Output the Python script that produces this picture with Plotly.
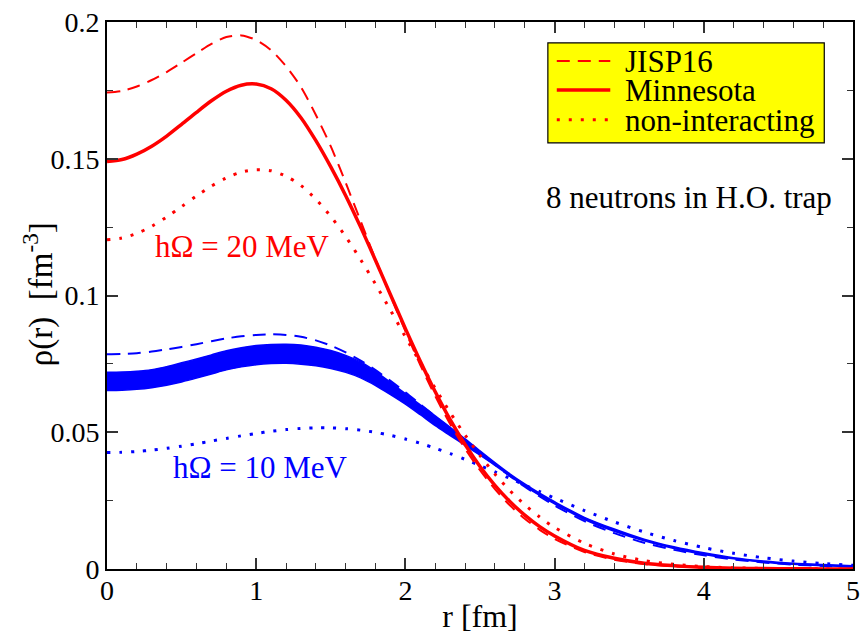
import plotly.graph_objects as go

# radial grid [fm]
r = [0.0, 0.1, 0.2, 0.3, 0.4, 0.5, 0.6, 0.7, 0.8, 0.9,
     1.0, 1.1, 1.2, 1.3, 1.4, 1.5, 1.6, 1.7, 1.8, 1.9,
     2.0, 2.1, 2.2, 2.3, 2.4, 2.5, 2.6, 2.7, 2.8, 2.9,
     3.0, 3.2, 3.4, 3.6, 3.8, 4.0, 4.2, 4.4, 4.6, 4.8, 5.0]

# hbar*Omega = 20 MeV densities [fm^-3]
jisp16_20 = [0.1742, 0.1748, 0.1764, 0.1788, 0.1817, 0.1851, 0.1886, 0.1920, 0.1945, 0.1951,
             0.1934, 0.1897, 0.1838, 0.1762, 0.1660, 0.1545, 0.1412, 0.1272, 0.1132, 0.1000,
             0.0870, 0.0746, 0.0632, 0.0530, 0.0440, 0.0361, 0.0292, 0.0233, 0.0184, 0.0143,
             0.0110, 0.0062, 0.0034, 0.0018, 0.0010, 0.0005, 0.00025, 0.00012, 0.00006,
             0.00003, 0.00002]
minnesota_20 = [0.1490, 0.1497, 0.1517, 0.1546, 0.1583, 0.1626, 0.1670, 0.1712, 0.1747, 0.1769,
                0.1773, 0.1756, 0.1714, 0.1650, 0.1566, 0.1470, 0.1365, 0.1250, 0.1128, 0.1003,
                0.0879, 0.0760, 0.0648, 0.0546, 0.0455, 0.0375, 0.0306, 0.0247, 0.0197, 0.0155,
                0.0121, 0.0068, 0.0039, 0.0021, 0.0012, 0.0006, 0.0003, 0.00015, 0.00008,
                0.00004, 0.00002]
free_20 = [0.1204, 0.1210, 0.1227, 0.1253, 0.1287, 0.1325, 0.1364, 0.1400, 0.1430, 0.1451,
           0.1460, 0.1456, 0.1436, 0.1402, 0.1352, 0.1289, 0.1215, 0.1131, 0.1041, 0.0946,
           0.0849, 0.0754, 0.0661, 0.0572, 0.0490, 0.0415, 0.0347, 0.0287, 0.0235, 0.0190,
           0.0152, 0.0094, 0.0055, 0.0031, 0.0017, 0.0009, 0.00043, 0.0002, 0.0001,
           0.00004, 0.00002]

# hbar*Omega = 10 MeV densities [fm^-3]
jisp16_10 = [0.0785, 0.0786, 0.0789, 0.0795, 0.0803, 0.0812, 0.0822, 0.0833, 0.0843, 0.0851,
             0.0856, 0.0858, 0.0856, 0.0849, 0.0836, 0.0817, 0.0792, 0.0762, 0.0727, 0.0688,
             0.0646, 0.0602, 0.0558, 0.0513, 0.0468, 0.0424, 0.0381, 0.0340, 0.0301, 0.0265,
             0.0232, 0.0175, 0.0131, 0.0096, 0.0070, 0.0050, 0.0035, 0.0024, 0.0016,
             0.0011, 0.0008]
minnesota_10_lo = [0.0653, 0.0654, 0.0657, 0.0663, 0.0672, 0.0684, 0.0698, 0.0713, 0.0728, 0.0739,
                   0.0747, 0.0751, 0.0752, 0.0749, 0.0743, 0.0733, 0.0719, 0.0699, 0.0671, 0.0638,
                   0.0603, 0.0564, 0.0524, 0.0488, 0.0452, 0.0416, 0.0379, 0.0340, 0.0303, 0.0269,
                   0.0238, 0.0181, 0.0138, 0.0103, 0.0075, 0.0053, 0.0037, 0.0025, 0.0017,
                   0.0012, 0.0008]
minnesota_10_hi = [0.0719, 0.0720, 0.0723, 0.0729, 0.0740, 0.0754, 0.0768, 0.0783, 0.0798, 0.0809,
                   0.0817, 0.0821, 0.0822, 0.0819, 0.0811, 0.0799, 0.0781, 0.0757, 0.0723, 0.0682,
                   0.0641, 0.0600, 0.0560, 0.0518, 0.0476, 0.0432, 0.0389, 0.0348, 0.0311, 0.0277,
                   0.0246, 0.0189, 0.0146, 0.0109, 0.0081, 0.0059, 0.0041, 0.0029, 0.0021,
                   0.0016, 0.0012]
free_10 = [0.04257, 0.04267, 0.04297, 0.04346, 0.04412, 0.04491, 0.04581, 0.04677, 0.04775,
           0.04870, 0.04958, 0.05036, 0.05097, 0.05141, 0.05162, 0.05160, 0.05131, 0.05076,
           0.04994, 0.04885, 0.04752, 0.04595, 0.04416, 0.04220, 0.04008, 0.03784, 0.03551,
           0.03313, 0.03071, 0.02830, 0.02593, 0.02137, 0.01721, 0.01354, 0.01040, 0.00782,
           0.00574, 0.00412, 0.00290, 0.00199, 0.00134]

legend_names = ["JISP16", "Minnesota", "non-interacting"]

RED = "#ff0000"
BLUE = "#0000ff"
FONT = "Liberation Serif"
DASH = "13px,8px"
DOT = "3px,9px"

# plot area in pixels (left, right, top, bottom)
L, R, T, B = 107, 860, 22, 570
W, H = 864, 634


def px(xp):
    return (xp - L) / (R - L)


def py(yp):
    return (B - yp) / (B - T)


def curve(y, color, width, dash=None, **kw):
    line = dict(color=color, width=width, shape="spline", smoothing=0.8)
    if dash:
        line["dash"] = dash
    return go.Scatter(x=r, y=y, mode="lines", line=line, showlegend=False, **kw)


fig = go.Figure()

# Minnesota band, 10 MeV
fig.add_trace(curve(minnesota_10_lo, BLUE, 1.5))
fig.add_trace(curve(minnesota_10_hi, BLUE, 1.5, fill="tonexty", fillcolor=BLUE))
fig.add_trace(curve(jisp16_10, BLUE, 2, DASH))
fig.add_trace(curve(free_10, BLUE, 3, DOT))

fig.add_trace(curve(free_20, RED, 3, DOT))
fig.add_trace(curve(jisp16_20, RED, 2, DASH))
fig.add_trace(curve(minnesota_20, RED, 3.5))

# legend box
shapes = [dict(type="rect", xref="paper", yref="paper",
               x0=px(552), x1=px(831), y0=py(143), y1=py(43),
               fillcolor="#ffff00", line=dict(color="black", width=1.2))]
rows = [61, 90, 120]
styles = [dict(width=2, dash=DASH), dict(width=3.5), dict(width=3, dash=DOT)]
annotations = []
for name, yrow, st in zip(legend_names, rows, styles):
    shapes.append(dict(type="line", xref="paper", yref="paper",
                       x0=px(561), x1=px(615), y0=py(yrow), y1=py(yrow),
                       line=dict(color=RED, **st)))
    annotations.append(dict(xref="paper", yref="paper", x=px(628), y=py(yrow + 1),
                            text=name, showarrow=False, xanchor="left",
                            yanchor="middle",
                            font=dict(family=FONT, size=31, color="black")))

annotations += [
    dict(x=0.91, y=0.118, text="hΩ = 20 MeV", showarrow=False,
         font=dict(family=FONT, size=31, color=RED)),
    dict(x=1.03, y=0.0372, text="hΩ = 10 MeV", showarrow=False,
         font=dict(family=FONT, size=31, color=BLUE)),
    dict(x=3.90, y=0.136, text="8 neutrons in H.O. trap", showarrow=False,
         font=dict(family=FONT, size=31, color="black")),
    # y-axis title
    dict(xref="paper", yref="paper", x=px(38), y=py(295),
         text="ρ(r) \u00a0[fm<sup>-3</sup>]", textangle=-90, showarrow=False,
         xanchor="center", yanchor="middle",
         font=dict(family=FONT, size=33, color="black")),
]

axis_common = dict(showline=True, linecolor="black", linewidth=2, mirror="ticks",
                   ticks="inside", ticklen=11, tickwidth=1.5, tickcolor="#333",
                   showgrid=False, zeroline=False,
                   tickfont=dict(family=FONT, size=28, color="black"))

fig.update_layout(
    width=W, height=H,
    margin=dict(l=L, r=W - R, t=T, b=H - B),
    paper_bgcolor="white", plot_bgcolor="white",
    showlegend=False,
    shapes=shapes, annotations=annotations,
    xaxis=dict(range=[0, 5], dtick=1, tick0=0, ticklabeloverflow="allow",
               ticklabelstandoff=-5,
               minor=dict(dtick=0.2, ticks="inside", ticklen=6, tickwidth=1.2,
                          tickcolor="#333"),
               title=dict(text="r [fm]", standoff=2,
                          font=dict(family=FONT, size=32, color="black")),
               **axis_common),
    yaxis=dict(range=[0, 0.2], dtick=0.05, tick0=0,
               minor=dict(dtick=0.025, ticks="inside", ticklen=6, tickwidth=1.2,
                          tickcolor="#333"),
               **axis_common),
)

fig.write_html("out.html")
